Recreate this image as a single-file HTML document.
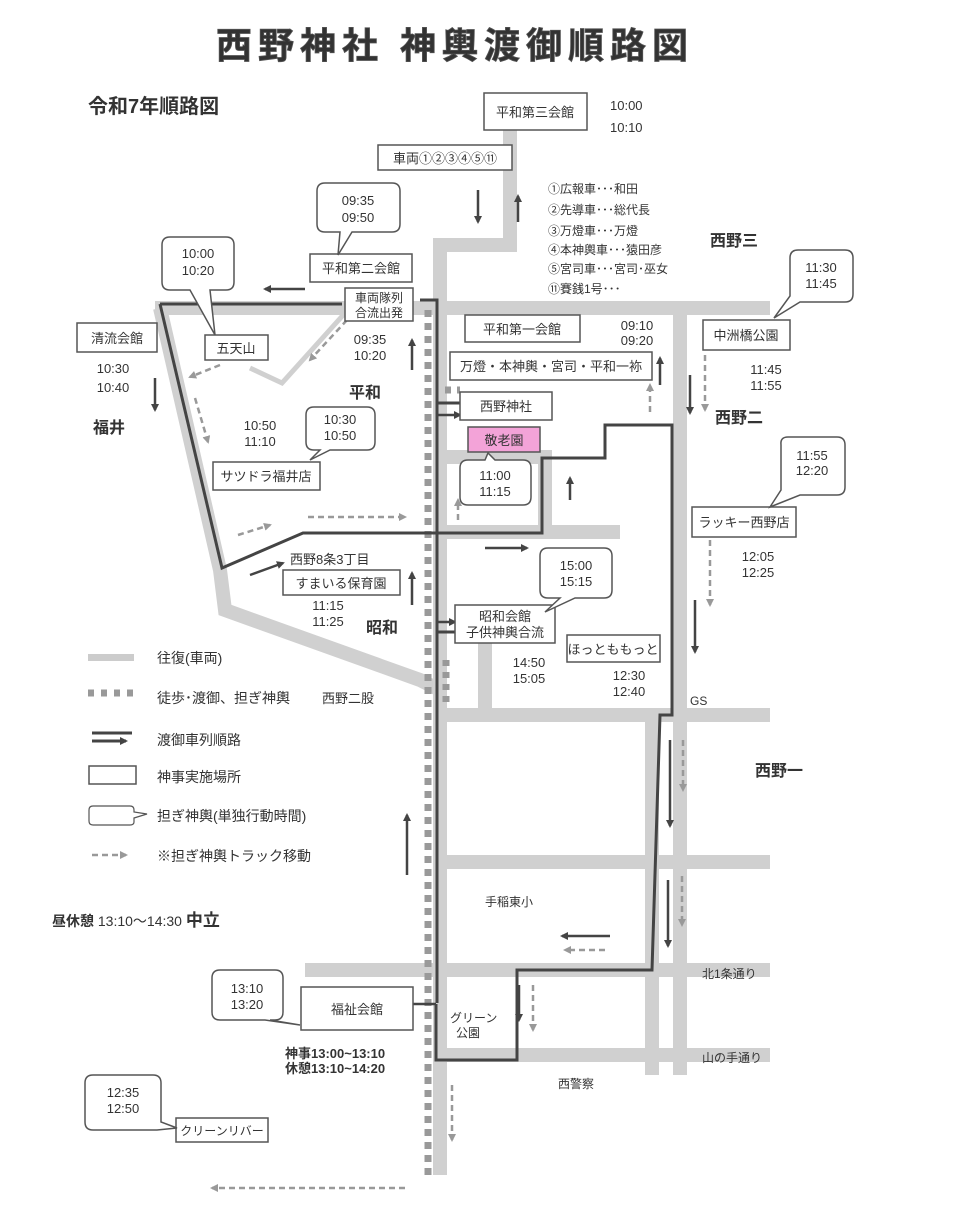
<!DOCTYPE html>
<html><head><meta charset="utf-8"><style>
body{margin:0;background:#fff}
svg{display:block}
text{font-family:"Liberation Sans","Noto Sans CJK JP",sans-serif;fill:#333}
.b{font-weight:bold}
</style></head><body>
<svg width="976" height="1230" viewBox="0 0 976 1230" xmlns="http://www.w3.org/2000/svg">
<defs>
<marker id="a" markerWidth="8" markerHeight="8" refX="6" refY="4" orient="auto" markerUnits="userSpaceOnUse"><path d="M0,0 L8,4 L0,8z" fill="#444"/></marker>
<marker id="g" markerWidth="8" markerHeight="8" refX="6" refY="4" orient="auto" markerUnits="userSpaceOnUse"><path d="M0,0 L8,4 L0,8z" fill="#999"/></marker>
</defs>
<!-- gray roads -->
<g stroke="#d0d0d0" stroke-width="14" fill="none">
<path d="M510,130 V245 H440 V300"/>
<path d="M155,308 H770"/>
<path d="M160,308 L220,570 L225,610 L420,680 L436,688"/>
<path d="M440,457 H545 V532 H440"/>
<path d="M680,310 V1075"/>
<path d="M485,640 V712"/>
<path d="M440,715 H770"/>
<path d="M440,862 H770"/>
<path d="M305,970 H770"/>
<path d="M440,1055 H770"/>
<path d="M652,715 V1075"/>
<path d="M440,255 V1175"/>
<path d="M545,532 H620"/>
</g>
<path d="M345,313 L282,383 L250,368" stroke="#d0d0d0" stroke-width="5" fill="none"/>
<!-- dashed squares -->
<path d="M428,310 V1175" stroke="#999" stroke-width="7" stroke-dasharray="7,6" fill="none"/>
<path d="M445,390 H460 M446,660 V705" stroke="#999" stroke-width="7" stroke-dasharray="6,6" fill="none"/>
<!-- dark route -->
<g stroke="#444" stroke-width="3" fill="none">
<path d="M160,304 H342"/>
<path d="M420,300 H437 V1003"/>
<path d="M437,403 H462"/>
<path d="M160,304 L222,568 L303,533 H542 V458 H605 V425 H672 V715 H660 L652,970 H517 V1060 H436 V1004"/>
<path d="M437,632 H455"/>
</g>
<g stroke="#444" stroke-width="2.5" fill="none" marker-end="url(#a)">
<path d="M437,415 H460"/>
<path d="M437,622 H455"/>
<path d="M436,1004 H406"/>
<path d="M305,289 H265"/>
<path d="M478,190 V222"/>
<path d="M518,222 V196"/>
<path d="M155,378 V410"/>
<path d="M412,370 V340"/>
<path d="M570,500 V478"/>
<path d="M485,548 H527"/>
<path d="M250,575 L283,563"/>
<path d="M412,605 V573"/>
<path d="M407,875 V815"/>
<path d="M660,385 V358"/>
<path d="M690,375 V413"/>
<path d="M695,600 V652"/>
<path d="M670,740 V826"/>
<path d="M668,880 V946"/>
<path d="M610,936 H562"/>
<path d="M519,985 V1020"/>
</g>
<g stroke="#999" stroke-width="2.5" fill="none" stroke-dasharray="6,4" marker-end="url(#g)">
<path d="M347,320 L310,360"/>
<path d="M220,365 L190,377"/>
<path d="M195,398 L208,442"/>
<path d="M238,535 L270,525"/>
<path d="M308,517 H405"/>
<path d="M458,520 V500"/>
<path d="M650,412 V385"/>
<path d="M705,355 V410"/>
<path d="M710,540 V605"/>
<path d="M683,740 V790"/>
<path d="M682,876 V925"/>
<path d="M605,950 H565"/>
<path d="M533,985 V1030"/>
<path d="M452,1085 V1140"/>
<path d="M405,1188 H212"/>
</g>
<!-- boxes -->
<g fill="#fff" stroke="#555" stroke-width="1.5">
<rect x="484" y="93" width="103" height="37"/>
<rect x="378" y="145" width="134" height="25"/>
<rect x="310" y="254" width="102" height="28"/>
<rect x="345" y="288" width="68" height="33"/>
<rect x="77" y="323" width="80" height="29"/>
<rect x="205" y="335" width="63" height="25"/>
<rect x="465" y="315" width="115" height="27"/>
<rect x="450" y="352" width="202" height="28"/>
<rect x="460" y="392" width="92" height="28"/>
<rect x="468" y="427" width="72" height="25" fill="#f3a3d8"/>
<rect x="213" y="462" width="107" height="28"/>
<rect x="283" y="570" width="117" height="25"/>
<rect x="455" y="605" width="100" height="38"/>
<rect x="567" y="635" width="93" height="27"/>
<rect x="703" y="320" width="87" height="30"/>
<rect x="692" y="507" width="104" height="30"/>
<rect x="301" y="987" width="112" height="43"/>
<rect x="176" y="1118" width="92" height="24"/>
</g>
<!-- callouts -->
<g fill="#fff" stroke="#555" stroke-width="1.5">
<path d="M325,183 H392 Q400,183 400,191 V224 Q400,232 392,232 H352 L338,255 L340,232 H325 Q317,232 317,224 V191 Q317,183 325,183Z"/>
<path d="M170,237 H226 Q234,237 234,245 V282 Q234,290 226,290 H210 L215,335 L190,290 H170 Q162,290 162,282 V245 Q162,237 170,237Z"/>
<path d="M314,407 H367 Q375,407 375,415 V442 Q375,450 367,450 H330 L310,460 L320,450 H314 Q306,450 306,442 V415 Q306,407 314,407Z"/>
<path d="M468,460 H485 L488,453 L495,460 H523 Q531,460 531,468 V497 Q531,505 523,505 H468 Q460,505 460,497 V468 Q460,460 468,460Z"/>
<path d="M548,548 H604 Q612,548 612,556 V590 Q612,598 604,598 H575 L545,612 L560,598 H548 Q540,598 540,590 V556 Q540,548 548,548Z"/>
<path d="M798,250 H845 Q853,250 853,258 V294 Q853,302 845,302 H800 L774,318 L790,296 V258 Q790,250 798,250Z"/>
<path d="M788,437 H837 Q845,437 845,445 V487 Q845,495 837,495 H800 L770,507 L781,490 V445 Q780,437 788,437Z"/>
<path d="M220,970 H275 Q283,970 283,978 V1012 Q283,1020 275,1020 H270 L300,1025 L265,1020 H220 Q212,1020 212,1012 V978 Q212,970 220,970Z"/>
<path d="M93,1075 H153 Q161,1075 161,1083 V1122 L177,1128 L157,1130 H93 Q85,1130 85,1122 V1083 Q85,1075 93,1075Z"/>
</g>
<!-- title -->
<text x="455" y="58" font-size="36" class="b" text-anchor="middle" letter-spacing="6" fill="#555" stroke="#555" stroke-width="0.8">西野神社 神輿渡御順路図</text>
<text x="88" y="113" font-size="20" class="b" fill="#444">令和7年順路図</text>
<g font-size="13">
<text x="535" y="117" text-anchor="middle">平和第三会館</text>
<text x="610" y="110">10:00</text><text x="610" y="132">10:10</text>
<text x="445" y="163" text-anchor="middle">車両①②③④⑤⑪</text>
<text x="361" y="273" text-anchor="middle">平和第二会館</text>
<text x="379" y="302" text-anchor="middle" font-size="12">車両隊列</text>
<text x="379" y="317" text-anchor="middle" font-size="12">合流出発</text>
<text x="117" y="343" text-anchor="middle">清流会館</text>
<text x="236" y="353" text-anchor="middle">五天山</text>
<text x="522" y="334" text-anchor="middle">平和第一会館</text>
<text x="551" y="371" text-anchor="middle">万燈・本神輿・宮司・平和一袮</text>
<text x="506" y="411" text-anchor="middle">西野神社</text>
<text x="504" y="445" text-anchor="middle">敬老園</text>
<text x="266" y="481" text-anchor="middle">サツドラ福井店</text>
<text x="341" y="588" text-anchor="middle">すまいる保育園</text>
<text x="290" y="564">西野8条3丁目</text>
<text x="505" y="621" text-anchor="middle">昭和会館</text>
<text x="505" y="637" text-anchor="middle">子供神輿合流</text>
<text x="613" y="654" text-anchor="middle">ほっとももっと</text>
<text x="746" y="340" text-anchor="middle">中洲橋公園</text>
<text x="744" y="527" text-anchor="middle">ラッキー西野店</text>
<text x="357" y="1014" text-anchor="middle">福祉会館</text>
<text x="222" y="1135" text-anchor="middle" font-size="12">クリーンリバー</text>
</g>
<g font-size="13" text-anchor="middle">
<text x="358" y="205">09:35</text><text x="358" y="222">09:50</text>
<text x="198" y="258">10:00</text><text x="198" y="275">10:20</text>
<text x="340" y="424">10:30</text><text x="340" y="440">10:50</text>
<text x="495" y="480">11:00</text><text x="495" y="496">11:15</text>
<text x="576" y="570">15:00</text><text x="576" y="586">15:15</text>
<text x="821" y="272">11:30</text><text x="821" y="288">11:45</text>
<text x="812" y="460">11:55</text><text x="812" y="475">12:20</text>
<text x="247" y="993">13:10</text><text x="247" y="1009">13:20</text>
<text x="123" y="1097">12:35</text><text x="123" y="1113">12:50</text>
<text x="370" y="344">09:35</text><text x="370" y="360">10:20</text>
<text x="260" y="430">10:50</text><text x="260" y="446">11:10</text>
<text x="113" y="373">10:30</text><text x="113" y="392">10:40</text>
<text x="637" y="330">09:10</text><text x="637" y="345">09:20</text>
<text x="766" y="374">11:45</text><text x="766" y="390">11:55</text>
<text x="758" y="561">12:05</text><text x="758" y="577">12:25</text>
<text x="328" y="610">11:15</text><text x="328" y="626">11:25</text>
<text x="529" y="667">14:50</text><text x="529" y="683">15:05</text>
<text x="629" y="680">12:30</text><text x="629" y="696">12:40</text>
</g>
<g font-size="12">
<text x="548" y="193">①広報車･･･和田</text>
<text x="548" y="214">②先導車･･･総代長</text>
<text x="548" y="235">③万燈車･･･万燈</text>
<text x="548" y="254">④本神輿車･･･猿田彦</text>
<text x="548" y="273">⑤宮司車･･･宮司･巫女</text>
<text x="548" y="293">⑪賽銭1号･･･</text>
<text x="690" y="705">GS</text>
<text x="485" y="906">手稲東小</text>
<text x="450" y="1022">グリーン</text><text x="456" y="1037">公園</text>
<text x="702" y="978">北1条通り</text>
<text x="702" y="1062">山の手通り</text>
<text x="558" y="1088">西警察</text>
</g>
<g font-size="16" class="b" fill="#444">
<text x="710" y="246">西野三</text>
<text x="715" y="423">西野二</text>
<text x="755" y="776">西野一</text>
<text x="93" y="433">福井</text>
<text x="349" y="398">平和</text>
<text x="366" y="633">昭和</text>
</g>
<!-- legend -->
<rect x="88" y="654" width="46" height="7" fill="#ccc"/>
<path d="M88,693 H134" stroke="#999" stroke-width="7" stroke-dasharray="6,7"/>
<path d="M92,733 H132 M92,741 H126" stroke="#444" stroke-width="3" marker-end="url(#a)"/>
<rect x="89" y="766" width="47" height="18" fill="#fff" stroke="#555" stroke-width="1.5"/>
<path d="M93,806 H130 Q134,806 134,810 V812 L147,814 L134,818 V822 Q134,825 130,825 H93 Q89,825 89,821 V810 Q89,806 93,806Z" fill="#fff" stroke="#555" stroke-width="1.2"/>
<path d="M92,855 H126" stroke="#999" stroke-width="2.5" stroke-dasharray="6,4" marker-end="url(#g)"/>
<g font-size="14">
<text x="157" y="663">往復(車両)</text>
<text x="157" y="703">徒歩･渡御、担ぎ神輿</text>
<text x="322" y="703" font-size="13">西野二股</text>
<text x="157" y="745">渡御車列順路</text>
<text x="157" y="782">神事実施場所</text>
<text x="157" y="821">担ぎ神輿(単独行動時間)</text>
<text x="157" y="861">※担ぎ神輿トラック移動</text>
</g>
<text x="52" y="926" font-size="14" class="b">昼休憩 <tspan font-weight="normal">13:10～14:30</tspan> <tspan font-size="17">中立</tspan></text>
<text x="285" y="1058" font-size="13" class="b">神事13:00~13:10</text>
<text x="285" y="1073" font-size="13" class="b">休憩13:10~14:20</text>
</svg>
</body></html>
